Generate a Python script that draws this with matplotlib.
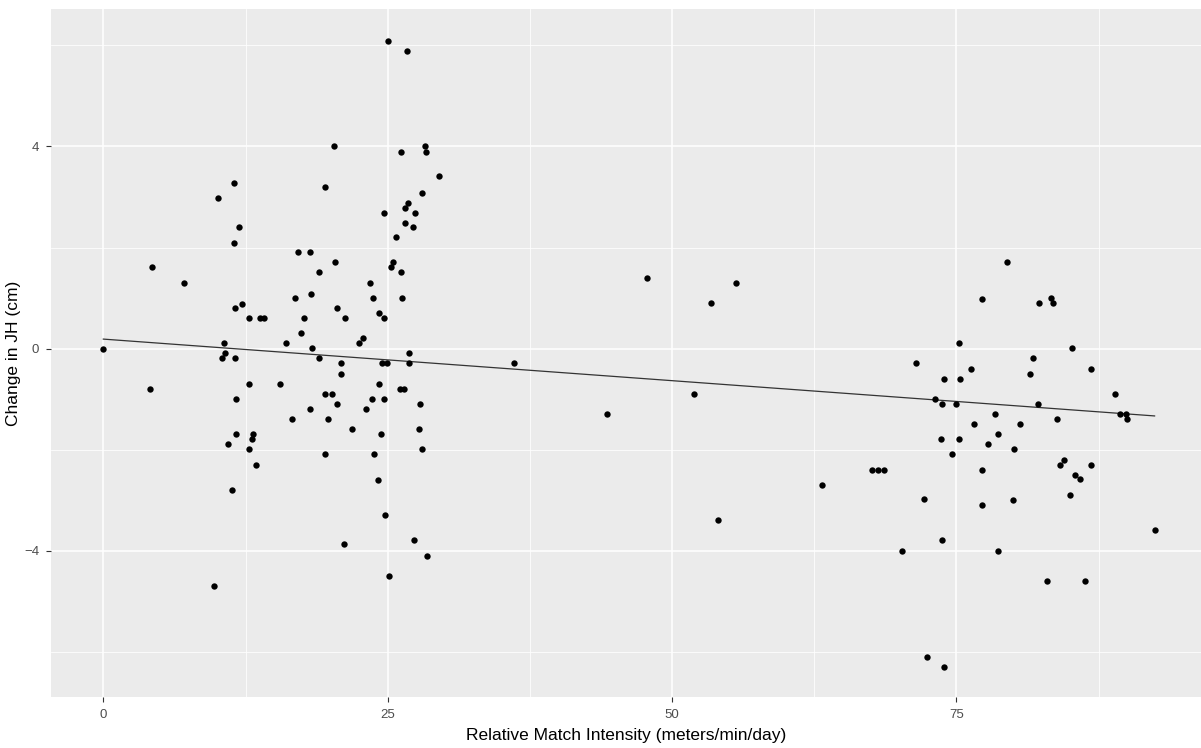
import numpy as np
import matplotlib.pyplot as plt

# relative match intensity (x) and change in jump height (y)
intensity = [0.0, 4.26, 4.14, 7.13, 9.77, 10.09, 10.42, 10.62, 10.74, 10.94,
             11.27, 11.47, 11.47, 11.59, 11.59, 11.68, 11.68, 11.91, 12.23, 12.85,
             12.85, 12.85, 13.08, 13.17, 13.38, 13.81, 14.11, 15.49, 16.05, 16.58,
             16.89, 17.10, 17.42, 17.63, 18.19, 18.19, 18.28, 18.36, 18.92, 18.92,
             19.45, 19.53, 19.53, 19.77, 20.06, 20.30, 20.41, 20.50, 20.50, 20.92,
             20.92, 21.15, 21.27, 21.88, 22.50, 22.82, 23.05, 23.47, 23.58, 23.70,
             23.79, 24.11, 24.20, 24.20, 24.43, 24.52, 24.64, 24.64, 24.64, 24.76,
             24.96, 25.05, 25.08, 25.29, 25.49, 25.69, 26.11, 26.13, 26.13, 26.26,
             26.46, 26.55, 26.55, 26.66, 26.78, 26.90, 26.90, 27.19, 27.31, 27.40,
             27.72, 27.84, 28.04, 28.04, 28.25, 28.39, 28.48, 29.54,
             36.11, 44.29, 47.81, 51.95, 53.44, 54.06, 55.64,
             63.18, 67.55, 68.08, 68.63, 70.21, 71.45, 72.12, 72.45, 73.15, 73.62,
             73.71, 73.71, 73.91, 73.91, 74.65, 75.00, 75.21, 75.21, 75.32, 76.26,
             76.58, 77.23, 77.23, 77.23, 77.78, 78.37, 78.61, 78.61, 79.46, 79.98,
             80.10, 80.63, 81.48, 81.69, 82.13, 82.30, 82.95, 83.27, 83.50, 83.80,
             84.12, 84.44, 84.97, 85.17, 85.41, 85.85, 86.26, 86.79, 86.79, 88.90,
             89.34, 89.87, 89.99, 92.42]
jh_change = [0.0, 1.61, -0.80, 1.29, -4.69, 2.99, -0.18, 0.11, -0.08, -1.88,
             -2.80, 3.28, 2.10, 0.80, -0.18, -1.00, -1.68, 2.40, 0.89, 0.60,
             -0.70, -1.98, -1.78, -1.68, -2.30, 0.60, 0.60, -0.70, 0.11, -1.39,
             1.00, 1.91, 0.31, 0.60, 1.91, -1.20, 1.09, 0.02, 1.51, -0.18,
             3.19, -0.90, -2.08, -1.39, -0.90, 4.00, 1.71, 0.80, -1.10, -0.28,
             -0.50, -3.87, 0.60, -1.58, 0.11, 0.21, -1.20, 1.29, -1.00, 1.00,
             -2.08, -2.60, 0.70, -0.70, -1.68, -0.28, 2.69, 0.60, -1.00, -3.28,
             -0.28, 6.09, -4.49, 1.61, 1.71, 2.20, -0.80, 3.90, 1.51, 1.00,
             -0.80, 2.79, 2.49, 5.89, 2.89, -0.08, -0.28, 2.40, -3.78, 2.69,
             -1.58, -1.10, 3.09, -1.98, 4.00, 3.90, -4.10, 3.41,
             -0.29, -1.29, 1.39, -0.90, 0.90, -3.38, 1.29,
             -2.69, -2.39, -2.39, -2.39, -4.00, -0.28, -2.97, -6.09, -1.00, -1.78,
             -1.09, -3.78, -0.60, -6.29, -2.08, -1.09, 0.11, -1.78, -0.60, -0.41,
             -1.49, 0.99, -2.39, -3.09, -1.88, -1.29, -1.68, -4.00, 1.71, -2.99,
             -1.98, -1.49, -0.50, -0.19, -1.09, 0.90, -4.59, 1.00, 0.90, -1.39,
             -2.30, -2.20, -2.90, 0.01, -2.50, -2.57, -4.59, -0.41, -2.30, -0.90,
             -1.29, -1.29, -1.39, -3.58]

# trend line as drawn in the chart (model fit, endpoints)
fit_x = [0.0, 92.42]
fit_y = [0.19, -1.33]

plt.rcParams['font.family'] = ['Liberation Sans', 'DejaVu Sans']

fig = plt.figure(figsize=(12.01, 7.48), dpi=100)
ax = fig.add_axes([51 / 1201, 51 / 748, 1 - 51 / 1201, (697 - 9) / 748])
ax.set_facecolor('#EBEBEB')
for s in ax.spines.values():
    s.set_visible(False)

ax.set_xlim(-4.6, 96.5)
ax.set_ylim(-6.89, 6.72)
ax.set_xticks([0, 25, 50, 75])
ax.set_yticks([-4, 0, 4])
ax.set_xticks([12.5, 37.5, 62.5, 87.5], minor=True)
ax.set_yticks([-6, -2, 2, 6], minor=True)
ax.grid(which='major', color='white', linewidth=1.1)
ax.grid(which='minor', color='white', linewidth=0.55)
ax.set_axisbelow(True)
ax.tick_params(which='major', length=3.5, width=0.8, color='#333333',
               labelcolor='#4D4D4D', labelsize=9.5, pad=5)
ax.tick_params(which='minor', length=0)

ax.scatter(intensity, jh_change, s=21, color='black', zorder=3, linewidths=0)
ax.plot(fit_x, fit_y, color='#333333', linewidth=0.9, zorder=2)

ax.set_xlabel('Relative Match Intensity (meters/min/day)', fontsize=12.5, labelpad=5)
ax.set_ylabel('Change in JH (cm)', fontsize=12.5, labelpad=2)

fig.savefig('out.png', dpi=100)
